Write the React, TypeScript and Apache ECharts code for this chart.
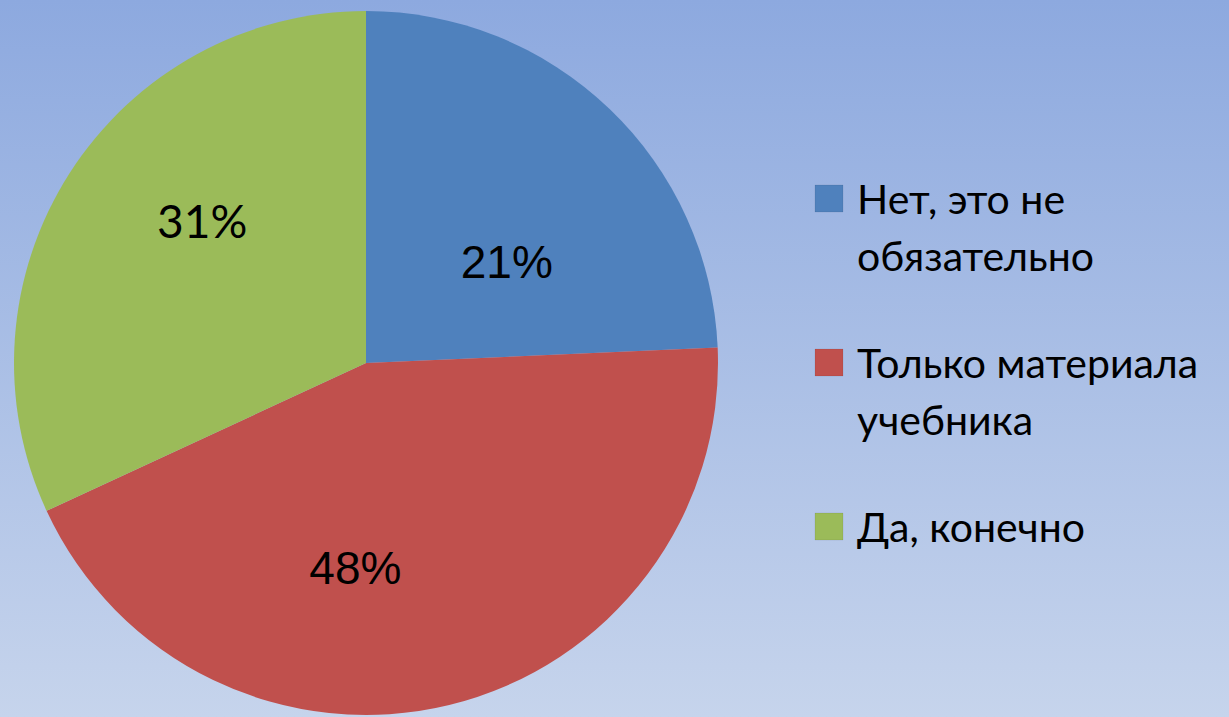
import React, { useEffect, useRef } from "react";
import * as echarts from "echarts";

const categories: string[] = ["Нет, это не\nобязательно", "Только материала\nучебника", "Да, конечно"];
const shares: number[] = [24.3, 43.8, 31.9];
const labelTexts: string[] = ["21%", "48%", "31%"];
const colors: string[] = ["#4F81BD", "#C0504D", "#9BBB59"];

const labelFonts = ["Liberation Sans, Arial, sans-serif", "Liberation Sans, Arial, sans-serif", "Lato, sans-serif"];
const labelShift = [
  [17, 28],
  [-53, 31],
  [-13, -46],
];

export default function App() {
  const ref = useRef<HTMLDivElement>(null);
  useEffect(() => {
    if (!ref.current) return;
    const chart = echarts.init(ref.current, undefined, { renderer: "svg" });

    const lineH = 57;
    const gap = 50;
    const legendX = 815;
    const textX = 857;
    let top = 170;
    const legendGraphics: any[] = [];
    categories.forEach((name, i) => {
      const lines = name.split("\n").length;
      legendGraphics.push({
        type: "rect",
        shape: { x: legendX, y: top + 15, width: 28, height: 27 },
        style: { fill: colors[i], stroke: "rgba(0,0,0,0.15)", lineWidth: 0.5 },
      });
      legendGraphics.push({
        type: "text",
        x: textX,
        y: top,
        style: {
          text: name,
          fontFamily: "Lato, sans-serif",
          fontSize: 41,
          lineHeight: lineH,
          fill: "#000",
          verticalAlign: "top",
          align: "left",
        },
      });
      top += lines * lineH + gap;
    });

    chart.setOption({
      animation: false,
      backgroundColor: {
        type: "linear",
        x: 0,
        y: 0,
        x2: 0,
        y2: 1,
        colorStops: [
          { offset: 0, color: "#8DA9DF" },
          { offset: 1, color: "#C6D4EC" },
        ],
      },
      series: [
        {
          type: "pie",
          center: [366, 363],
          radius: 352,
          startAngle: 90,
          clockwise: true,
          avoidLabelOverlap: false,
          label: {
            show: true,
            position: "inside",
            color: "#000",
            fontSize: 46,
          },
          labelLine: { show: false },
          labelLayout: (params: any) => ({
            dx: labelShift[params.dataIndex][0],
            dy: labelShift[params.dataIndex][1],
          }),
          emphasis: { disabled: true },
          data: categories.map((name, i) => ({
            name,
            value: shares[i],
            itemStyle: { color: colors[i] },
            label: {
              formatter: labelTexts[i],
              fontFamily: labelFonts[i],
            },
          })),
        },
      ],
      graphic: legendGraphics,
    });
    return () => chart.dispose();
  }, []);
  return (
    <div
      ref={ref}
      style={{ position: "fixed", left: 0, top: 0, width: 1229, height: 717 }}
    />
  );
}
